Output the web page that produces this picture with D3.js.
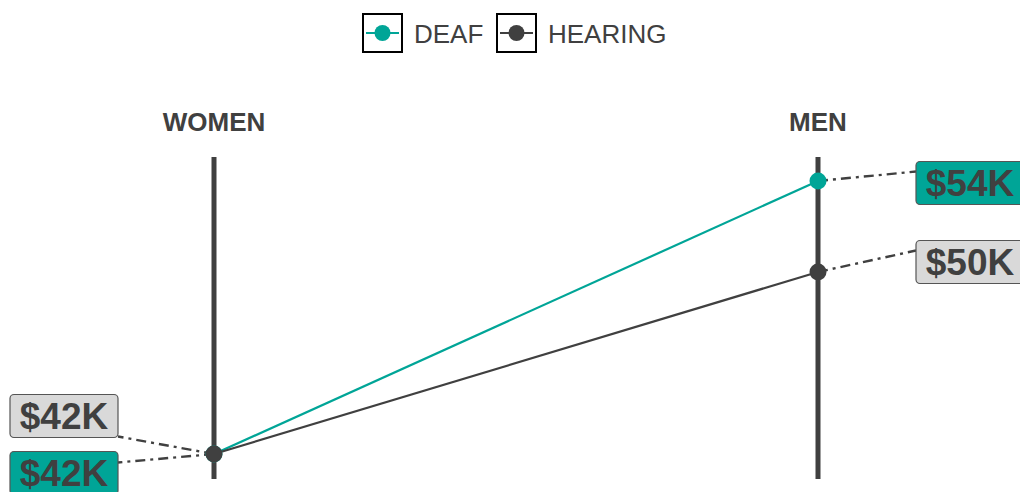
<!DOCTYPE html>
<html><head><meta charset="utf-8">
<script src="https://cdn.jsdelivr.net/npm/d3@7"></script>
<style>body{margin:0;background:#fff}svg{display:block}text{font-family:"Liberation Sans",Arial,sans-serif}</style>
</head><body>
<svg id="c" width="1020" height="492"></svg>
<script>
const categories = ["WOMEN", "MEN"];
const seriesNames = ["DEAF", "HEARING"];
const deafValues = [42.0, 54.0];
const hearingValues = [42.0, 50.0];
const deafLabels = ["$42K", "$54K"];
const hearingLabels = ["$42K", "$50K"];

const colors = {DEAF: "#00a597", HEARING: "#404040"};
const labelFill = {DEAF: "#00a597", HEARING: "#d9d9d9"};
const dark = "#404040";

const svg = d3.select("#c");
const x = d3.scalePoint().domain(categories).range([214, 818]);
const y = d3.scaleLinear().domain([50, 54]).range([272, 181]);

const series = [
  {name: "DEAF", values: deafValues, labels: deafLabels},
  {name: "HEARING", values: hearingValues, labels: hearingLabels}
];

// axis verticals
categories.forEach(c => {
  svg.append("line").attr("x1", x(c)).attr("x2", x(c)).attr("y1", 157).attr("y2", 479)
    .attr("stroke", dark).attr("stroke-width", 5);
  svg.append("text").attr("x", x(c)).attr("y", 131).attr("text-anchor", "middle")
    .attr("font-size", 26).attr("font-weight", "bold").attr("fill", dark).text(c);
});

// repelled label box layout
const labelBoxes = {
  DEAF: [{bx: 10, cy: 473}, {bx: 916, cy: 183}],
  HEARING: [{bx: 10, cy: 416}, {bx: 916, cy: 262}]
};
const bw = 108, bh = 43;

// connectors
series.forEach(s => {
  s.values.forEach((v, i) => {
    const b = labelBoxes[s.name][i];
    const px = x(categories[i]), py = y(v);
    const ex = i === 0 ? b.bx + bw : b.bx;
    const ey = i === 0 ? (b.cy < py ? b.cy + bh / 2 - 1 : b.cy - bh / 2 + 11) : b.cy - bh / 2 + 10;
    svg.append("line").attr("x1", px).attr("y1", py).attr("x2", ex).attr("y2", ey)
      .attr("stroke", dark).attr("stroke-width", 2.4).attr("stroke-dasharray", "10,5,3,5");
  });
});

// slope lines
const line = d3.line().x((d, i) => x(categories[i])).y(d => y(d));
series.forEach(s => {
  svg.append("path").datum(s.values).attr("d", line).attr("fill", "none")
    .attr("stroke", colors[s.name]).attr("stroke-width", 2.2);
});
series.forEach(s => {
  s.values.forEach((v, i) => {
    svg.append("circle").attr("cx", x(categories[i])).attr("cy", y(v)).attr("r", 8.5)
      .attr("fill", colors[s.name]);
  });
});

// labels
series.forEach(s => {
  s.values.forEach((v, i) => {
    const b = labelBoxes[s.name][i];
    svg.append("rect").attr("x", b.bx).attr("y", b.cy - bh / 2).attr("width", bw).attr("height", bh)
      .attr("rx", 4).attr("fill", labelFill[s.name]).attr("stroke", "#555").attr("stroke-width", 1.2);
    svg.append("text").attr("x", b.bx + bw / 2).attr("y", b.cy + 13).attr("text-anchor", "middle")
      .attr("font-size", 37).attr("font-weight", "bold").attr("fill", dark).text(s.labels[i]);
  });
});

// legend
const legX = [363, 497];
seriesNames.forEach((n, i) => {
  const g = svg.append("g").attr("transform", `translate(${legX[i]},14)`);
  g.append("rect").attr("x", 0).attr("y", 0).attr("width", 39).attr("height", 38)
    .attr("fill", "#fff").attr("stroke", "#000").attr("stroke-width", 2);
  g.append("line").attr("x1", 3).attr("x2", 36).attr("y1", 19).attr("y2", 19)
    .attr("stroke", colors[n]).attr("stroke-width", 2);
  g.append("circle").attr("cx", 19.5).attr("cy", 19).attr("r", 8).attr("fill", colors[n]);
  g.append("text").attr("x", 51).attr("y", 28.5).attr("font-size", 26).attr("fill", dark).text(n);
});
</script>
</body></html>
